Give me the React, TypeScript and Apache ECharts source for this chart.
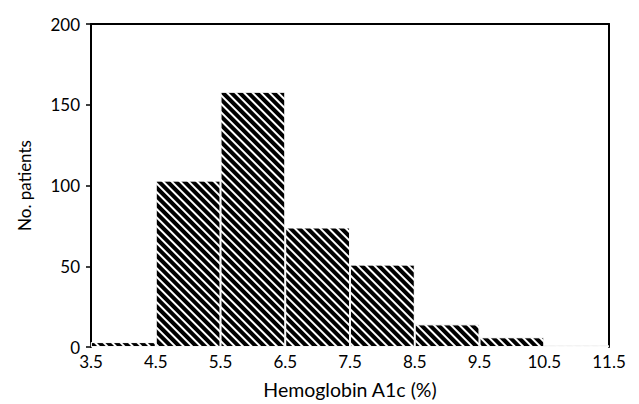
import React, { useEffect, useRef } from "react";
import * as echarts from "echarts";

const binCenters = [4, 5, 6, 7, 8, 9, 10, 11];
const patientCounts = [3, 103, 158, 74, 51, 14, 6, 1];
const yTicks = [0, 50, 100, 150, 200];

const FONT = "Lato";

export default function App() {
  const ref = useRef<HTMLDivElement>(null);
  useEffect(() => {
    if (!ref.current) return;
    const chart = echarts.init(ref.current, null, { renderer: "svg" });
    const gridLeft = 91;
    const gridRight = 30;
    const width = 639;
    const plotW = width - gridLeft - gridRight;
    const binW = plotW / binCenters.length;
    chart.setOption({
      animation: false,
      grid: { left: gridLeft, right: gridRight, top: 24, bottom: 56 },
      xAxis: [
        {
          type: "value",
          min: 3.5,
          max: 11.5,
          interval: 1,
          name: "Hemoglobin A1c (%)",
          nameLocation: "middle",
          nameGap: 32,
          nameTextStyle: { fontFamily: FONT, fontSize: 19.5, color: "#000" },
          axisLine: { show: false },
          axisTick: { show: false },
          splitLine: { show: false },
          axisLabel: {
            fontFamily: FONT,
            fontSize: 17,
            color: "#000",
            margin: 6,
            formatter: (v: number) => v.toFixed(1),
          },
        },
        {
          type: "value",
          position: "top",
          min: 3.5,
          max: 11.5,
          axisLine: { show: true, onZero: false, lineStyle: { color: "#000", width: 2 } },
          axisTick: { show: false },
          axisLabel: { show: false },
          splitLine: { show: false },
        },
      ],
      yAxis: [
        {
          type: "value",
          min: 0,
          max: 200,
          interval: 50,
          name: "No. patients",
          nameLocation: "middle",
          nameGap: 58,
          nameTextStyle: { fontFamily: FONT, fontSize: 17, color: "#000" },
          axisLine: { show: true, lineStyle: { color: "#000", width: 2 } },
          axisTick: { show: true, length: 5, lineStyle: { color: "#000", width: 1.5 } },
          splitLine: { show: false },
          axisLabel: {
            fontFamily: FONT,
            fontSize: 17,
            color: "#000",
            margin: 11,
            customValues: yTicks,
          },
        },
        {
          type: "value",
          position: "right",
          min: 0,
          max: 200,
          axisLine: { show: true, onZero: false, lineStyle: { color: "#000", width: 2 } },
          axisTick: { show: false },
          axisLabel: { show: false },
          splitLine: { show: false },
        },
      ],
      series: [
        {
          type: "bar",
          xAxisIndex: 0,
          yAxisIndex: 0,
          barWidth: binW,
          data: binCenters.map((c, i) => [c, patientCounts[i]]),
          itemStyle: {
            color: "#000",
            borderColor: "#fff",
            borderWidth: 0.8,
            decal: {
              symbol: "rect",
              color: "#fff",
              dashArrayX: [1, 0],
              dashArrayY: [1.5, 3.5],
              rotation: Math.PI / 4,
            },
          },
        },
      ],
    });
    return () => chart.dispose();
  }, []);
  return <div ref={ref} style={{ width: 639, height: 404, position: "absolute", left: 0, top: 0, background: "#fff" }} />;
}
